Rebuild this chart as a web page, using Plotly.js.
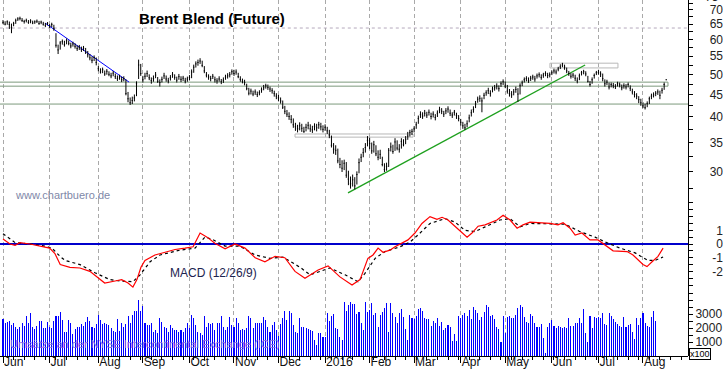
<!DOCTYPE html>
<html><head><meta charset="utf-8">
<script src="https://cdn.plot.ly/plotly-3.0.1.min.js"></script>
<style>html,body{margin:0;padding:0;background:#fff;}#chart{width:723px;height:373px;}</style>
</head><body><div id="chart"></div>
<script>
// ---- categories / ticks ----
const monthLabels = ['Jun','Jul','Aug','Sep','Oct','Nov','Dec','2016','Feb','Mar','Apr','May','Jun','Jul','Aug'];
const monthStart = [0,22,45,66,88,109,130,152,173,194,216,237,259,281,302];
const priceTicks = [30,35,40,45,50,55,60,65,70,75];
const priceMinor = [27.5,32.5,37.5,42.5,47.5,52.5,57.5,62.5,67.5,72.5];
const macdTicks = [-2,-1,0,1];
const volTicks = [1000,2000,3000];

// ---- daily price bars (trading-day index 0 = 1 Jun 2015) ----
const close = [
65.6,65.0,65.8,64.9,63.8,65.2,66.2,66.8,67.0,66.2,65.9,66.3,65.6,66.1,65.4,65.8,66.0,65.2,65.7,65.0,64.6,65.3,
64.4,64.9,63.6,58.2,56.8,58.9,59.3,58.4,59.6,58.8,58.0,58.6,57.9,57.2,57.6,56.9,57.3,56.2,55.4,54.5,53.8,54.6,53.2,
51.5,50.6,51.2,50.1,50.8,50.0,49.6,50.3,49.4,48.9,49.3,48.6,48.9,45.2,44.0,43.1,43.6,44.2,47.6,52.5,50.2,
48.6,49.5,50.2,49.1,48.4,48.9,49.8,48.2,47.9,48.7,49.6,48.8,48.3,49.1,49.9,49.2,48.5,49.4,48.7,49.0,48.3,48.8,
49.2,50.6,51.9,52.8,53.2,53.6,52.4,50.9,49.8,49.3,48.9,49.5,48.6,48.3,48.8,48.1,48.5,49.3,49.6,49.9,50.7,50.2,
50.6,49.4,48.7,48.2,47.9,46.4,45.3,45.8,45.1,45.6,45.0,45.4,46.1,46.6,47.1,46.7,46.3,45.9,45.2,44.6,44.2,
43.5,42.1,41.2,40.6,40.1,39.5,38.4,38.0,37.6,38.2,37.7,37.1,37.9,38.3,37.6,37.4,38.1,37.8,38.4,38.0,37.5,37.9,
37.2,36.4,34.5,33.8,33.6,31.8,31.2,30.6,31.4,29.5,28.9,28.2,28.8,27.9,29.6,31.5,32.4,33.2,34.1,35.4,
34.8,33.5,34.6,33.0,32.4,32.9,31.2,30.4,30.9,33.6,34.2,33.4,35.1,34.0,33.8,35.2,34.6,35.6,36.2,36.9,37.1,
37.6,38.4,39.7,40.5,40.2,40.8,40.4,41.0,40.1,40.6,39.9,40.8,41.5,41.2,40.6,41.3,41.7,40.8,40.4,41.0,40.3,39.7,
38.9,38.2,37.8,38.6,39.8,40.9,41.6,42.8,43.9,44.1,43.5,44.8,45.4,45.9,45.2,46.3,46.6,47.0,46.4,47.6,48.1,
47.0,45.8,45.2,44.9,45.6,46.2,45.1,47.1,47.8,48.6,48.9,48.4,49.0,49.3,48.8,49.6,49.9,49.2,49.8,50.2,49.7,49.9,
50.4,50.9,50.6,51.4,52.0,52.5,51.9,50.9,50.2,49.5,49.8,49.0,48.3,49.6,50.4,50.7,50.1,48.2,47.4,48.6,49.7,50.4,
50.5,50.1,48.9,47.6,48.0,46.8,47.4,47.1,46.9,47.6,47.3,46.6,47.1,46.8,47.4,46.5,45.6,45.0,44.6,43.8,43.1,
42.4,42.0,42.9,44.0,44.6,44.9,45.3,45.6,44.8,46.0,47.4,48.6
];
const high = [
66.4,66.0,66.3,65.9,65.2,65.8,66.9,67.4,67.6,67.1,66.5,66.9,66.4,66.7,66.2,66.3,66.6,66.1,66.2,65.8,65.4,65.7,
65.0,65.5,64.8,62.0,58.4,59.5,60.0,59.6,60.3,59.7,59.0,59.3,58.8,58.2,58.3,57.8,58.0,57.4,56.5,55.6,54.9,55.2,54.6,
52.2,51.6,51.8,51.0,51.4,50.8,50.4,50.9,50.2,49.7,49.9,49.4,49.5,48.7,45.6,44.3,44.5,45.0,48.2,54.0,52.8,
49.6,50.4,51.0,50.0,49.2,49.7,50.6,49.3,48.7,49.4,50.4,49.7,49.1,49.8,50.6,50.0,49.4,50.1,49.5,49.6,49.1,49.4,
49.8,51.3,52.6,53.5,54.0,54.4,53.7,52.2,50.6,50.0,49.6,50.1,49.4,49.0,49.5,48.8,49.2,49.9,50.3,50.6,51.3,51.2,
51.3,50.4,49.5,48.9,48.6,47.6,46.6,46.4,45.9,46.2,45.7,46.0,46.7,47.3,47.6,47.4,46.9,46.5,45.9,45.3,44.9,
44.3,43.6,42.4,41.5,41.0,40.4,39.7,38.8,38.4,38.9,38.6,38.0,38.6,39.0,38.5,38.2,38.7,38.6,39.0,38.8,38.3,38.5,
38.0,37.4,36.3,34.9,34.5,33.9,32.3,31.9,32.0,31.6,30.2,29.3,29.6,29.2,30.1,32.2,33.0,34.0,34.9,36.2,
35.9,35.0,35.3,34.5,33.6,33.7,32.5,31.4,31.5,34.0,35.0,34.6,35.8,35.4,34.7,35.8,35.6,36.2,37.0,37.4,37.6,
38.1,39.0,40.3,41.2,41.0,41.5,41.1,41.6,40.9,41.2,40.6,41.4,42.2,41.9,41.3,41.9,42.3,41.6,41.0,41.5,40.9,40.4,
39.6,39.0,38.6,39.3,40.5,41.6,42.3,43.5,44.5,44.8,44.3,45.4,46.0,46.6,46.0,46.9,47.3,47.7,47.2,48.2,48.7,
48.2,47.3,46.3,45.8,46.3,46.9,46.5,47.7,48.4,49.2,49.5,49.2,49.6,49.9,49.6,50.2,50.5,50.0,50.4,50.8,50.4,50.5,
51.0,51.5,51.3,52.0,52.7,53.1,52.6,51.8,50.9,50.3,50.4,49.9,49.2,50.2,50.9,51.2,50.8,49.6,48.3,49.2,50.2,50.9,
51.2,50.8,50.2,48.7,48.6,47.9,47.9,47.8,47.5,48.1,47.9,47.4,47.7,47.5,47.9,47.2,46.4,45.8,45.3,44.6,44.0,
43.2,42.9,43.4,44.5,45.2,45.5,45.8,46.2,45.9,46.6,47.9,48.7
];
const low = [
65.0,64.6,64.8,63.4,62.0,64.3,65.1,66.1,66.3,65.8,65.2,65.6,65.1,65.3,65.0,65.1,65.4,64.8,65.0,64.5,64.0,64.6,
63.7,64.0,62.8,57.5,55.6,56.9,58.4,57.8,58.5,58.2,57.3,57.8,57.2,56.5,56.8,56.2,56.5,55.6,54.6,53.8,53.0,53.6,52.4,
50.8,50.2,50.3,49.6,49.9,49.5,49.0,49.5,48.8,48.3,48.6,48.0,48.2,44.8,43.2,42.6,42.8,43.4,44.6,48.8,49.6,
47.9,48.7,49.3,48.5,47.6,48.1,49.0,47.8,46.9,47.9,48.8,48.1,47.7,48.4,49.1,48.6,47.9,48.6,48.0,48.3,47.7,48.1,
48.5,49.0,50.4,51.8,52.3,52.8,51.9,50.3,49.2,48.6,48.2,48.8,47.9,47.6,48.1,47.5,47.8,48.6,48.9,49.2,49.9,49.6,
49.9,49.0,48.1,47.7,47.2,46.0,44.8,45.0,44.6,44.9,44.4,44.8,45.4,46.0,46.4,46.1,45.6,45.2,44.5,43.9,43.5,
42.9,41.7,40.6,40.0,39.4,38.7,37.8,37.2,36.9,37.3,37.0,36.8,37.1,37.5,37.0,36.8,37.3,37.1,37.6,37.3,36.9,37.2,
36.6,35.8,34.1,33.0,32.8,31.4,30.6,30.0,30.3,29.1,28.0,27.5,27.8,27.4,28.1,29.8,31.6,32.4,33.2,34.3,
33.8,33.0,33.2,32.6,31.9,32.1,30.9,30.0,30.2,30.8,33.4,33.0,33.5,33.6,33.2,33.9,34.3,34.7,35.5,36.1,36.4,
36.9,37.6,38.6,39.8,39.6,40.1,39.8,40.3,39.5,39.9,39.3,40.0,40.8,40.6,40.0,40.6,40.9,40.2,39.8,40.3,39.6,39.1,
38.2,37.6,37.4,37.9,38.9,40.1,40.9,41.9,43.1,43.3,41.0,43.9,44.7,45.1,44.5,45.5,45.9,46.2,45.7,46.8,47.3,
46.5,45.2,44.5,44.2,44.8,45.4,43.3,45.0,47.0,47.9,48.2,47.8,48.3,48.6,48.1,48.9,49.2,48.6,49.1,49.5,49.0,49.2,
49.8,50.2,50.0,50.8,51.4,51.9,51.2,50.3,49.6,48.9,49.1,48.3,47.7,48.5,49.7,50.0,49.5,47.9,46.9,47.6,48.9,49.8,
49.9,49.3,48.2,46.9,47.3,46.2,46.7,46.5,46.3,46.9,46.7,46.0,46.4,46.2,46.7,45.8,45.0,44.3,43.9,43.0,42.4,
41.9,41.6,42.1,42.8,43.9,44.3,44.6,44.9,43.9,45.2,46.1,48.5
];

// ---- daily volume (contracts, axis shown x100) ----
const volume = [
2640,2330,2450,2520,2210,2380,2100,1900,2050,2330,2140,2860,2330,3050,2050,1900,2140,2520,2520,1980,1980,2450,
2100,1980,2500,2860,2860,3170,2570,1740,1740,2570,2330,1570,1900,2100,2050,2260,2140,2450,2760,2520,2100,2000,2300,
2930,2570,2260,2330,2290,2210,1980,1810,1740,2640,1810,2330,2100,2260,2860,2380,2930,3200,3240,4000,3240,
3570,2330,2190,2190,2330,1740,1860,1620,2690,2450,2100,2020,1740,2210,1980,1860,1860,1740,1860,1740,1980,2330,
1980,2930,2690,2210,1740,1620,1500,2860,2100,2330,2290,2330,1860,2330,2330,2860,2100,1860,2100,2760,2210,2100,
2740,2330,1860,1900,1860,1980,2860,2690,1980,2380,2330,2380,2380,2760,2570,2100,1740,2210,2450,1860,1450,
2290,2690,3240,2570,3240,3050,2210,1740,1620,2740,2100,2100,1980,1900,1860,1810,1140,790,1620,1620,1380,1380,
3050,2520,2860,3000,1980,1900,1380,1140,3860,3240,3640,3880,3740,3740,3000,3150,2330,1860,3850,3150,
3290,3810,2930,3050,2100,2930,3170,3400,3810,1750,3810,3050,2810,2330,3050,3330,2810,1900,1140,2930,2690,
2620,2860,3330,3400,3240,2690,2620,2620,2140,2500,2330,2690,2140,2450,1860,1980,2200,2050,1100,1550,1100,2860,
2690,2930,3050,2860,3290,2620,3480,3290,3100,2570,2760,3170,3640,3480,2860,2930,2620,2100,1900,1020,2860,
1670,2760,2860,2690,2690,2930,3400,3640,3480,2810,2450,2330,2980,2860,2380,2100,2050,2290,1260,240,2100,2380,
2570,2140,1980,2140,2100,1980,2050,1980,2690,2140,2140,2330,2380,2690,2330,3360,1670,1020,2860,1980,2760,2690,
2760,2690,3050,2290,2210,3050,2860,2620,2450,2290,2140,2050,2810,2050,2210,2290,1740,1200,2690,2210,2690,
3050,2330,2140,2100,2760,3240,2500
];

// ---- MACD (12/26/9) ----
const macdIdx = [0,3.3,5.7,8,12.7,17.5,22,24.5,27,31.6,36.3,41,44.4,48,52.9,56,59,61.3,63.2,65.1,67,71.7,76.5,81.2,85.9,89.7,93,96.3,100,104.8,109.5,114.2,119,123.6,128.4,133,137.8,142.5,148.7,153.4,159,164.7,168.5,172.2,174.6,177,179.3,182.6,185,188.3,191.1,194.4,197.7,201.5,204.8,207.2,210,214.3,216.6,219,221.3,224.2,227.5,230.8,233.1,236,239.3,242.6,245.4,248.7,253.4,258.1,261.9,264.3,267.6,270,273.2,277,280.8,285,287.9,294.5,297.3,302,303.9,306.3,309.1,311.5];
const macdVal = [0.36,0.0,-0.1,0.1,0.0,-0.15,-0.3,-0.7,-1.5,-1.7,-1.75,-2.0,-2.4,-2.85,-2.7,-2.6,-2.85,-3.15,-2.6,-1.7,-1.2,-0.8,-0.6,-0.4,-0.3,-0.2,0.8,0.5,0.05,-0.35,0.0,-0.3,-1.0,-1.3,-0.9,-1.0,-2.0,-2.5,-1.9,-1.6,-2.4,-3.0,-2.6,-1.05,-0.8,-0.3,-0.6,-0.45,-0.2,0.05,0.3,0.8,1.5,2.0,1.8,1.95,1.75,1.15,0.8,0.5,0.8,1.3,1.4,1.6,1.75,2.1,1.75,1.15,1.4,1.6,1.55,1.5,1.4,1.55,1.15,0.65,0.8,0.3,0.3,-0.2,-0.5,-0.55,-0.8,-1.5,-1.65,-1.3,-0.9,-0.3];
const sigIdx = [0,5.7,12.7,19.8,23.1,26.9,29.3,36.3,43.4,50.5,55.2,61.3,64.7,69.4,74.1,83.5,90.6,95.3,98.6,104.8,111.8,118.9,126,132.1,140.2,144.9,154.3,161.4,167.5,170.8,175.6,180.3,187.4,192.1,196.8,201.5,208.6,213.3,218,222.7,227.5,234.5,239.3,244,248.7,258.1,265.2,272.3,279.4,284.1,291.2,298.3,304.4,307.7,311.5];
const sigVal = [0.75,0.1,0.0,-0.15,-0.3,-0.9,-1.2,-1.5,-2.1,-2.6,-2.7,-2.75,-2.25,-1.3,-0.8,-0.45,-0.3,0.5,0.35,-0.15,-0.15,-0.8,-1.05,-0.95,-1.7,-2.25,-1.75,-2.25,-2.75,-2.15,-1.05,-0.55,-0.2,0.15,0.8,1.5,1.85,1.6,1.0,0.9,1.25,1.75,1.85,1.25,1.5,1.5,1.45,0.9,0.5,0.15,-0.3,-0.65,-1.2,-1.2,-0.95];

// ---- drawn chart lines (day index, price) ----
const downTrendX = [19.8, 59.5], downTrendY = [65.4, 48.0];
const upTrendX = [162.8, 274.7], upTrendY = [26.9, 52.5];
const supportLevel = 42.8;
const dottedLevel = 63.7;
const bandLo = 47.0, bandHi = 48.0, bandEnd = 313.8;
const boxA = {x0: 137.8, x1: 193.5, lo: 36.0, hi: 36.6};
const boxB = {x0: 258.1, x1: 290.2, lo: 51.7, hi: 53.0};

// ---------------------------------------------------------------
const dayIdx = close.map((_, i) => i);
const volIdx = volume.map((_, i) => i);
const xL = -10, xRgt = 340;
function rect(x0, x1, lo, hi) { return {x: [x0, x1, x1, x0, x0], y: [lo, lo, hi, hi, lo]}; }
function lineTrace(x, y, color, width, dash) {
  return {type: 'scatter', mode: 'lines', x: x, y: y, xaxis: 'x', yaxis: 'y',
    line: {color: color, width: width, dash: dash || 'solid'}, hoverinfo: 'skip', cliponaxis: true};
}
const band = rect(xL, bandEnd, bandLo, bandHi);
const rA = rect(boxA.x0, boxA.x1, boxA.lo, boxA.hi);
const rB = rect(boxB.x0, boxB.x1, boxB.lo, boxB.hi);

const traces = [
  lineTrace([xL, xRgt], [dottedLevel, dottedLevel], '#b4a8bc', 1, 'dot'),
  lineTrace(band.x, band.y, '#7d9a7d', 1),
  lineTrace([xL, xRgt], [supportLevel, supportLevel], '#7d9a7d', 1),
  lineTrace(rA.x, rA.y, '#b8b8b8', 1),
  lineTrace(rB.x, rB.y, '#b8b8b8', 1),
  lineTrace(downTrendX, downTrendY, '#0000ff', 1),
  lineTrace(upTrendX, upTrendY, '#1ea01e', 1.3),
  {type: 'ohlc', x: dayIdx, open: close, high: high, low: low, close: close, xaxis: 'x', yaxis: 'y4',
   increasing: {line: {color: '#000', width: 1}}, decreasing: {line: {color: '#000', width: 1}},
   tickwidth: 0.3, hoverinfo: 'skip'},
  {type: 'scatter', mode: 'lines', x: sigIdx, y: sigVal, xaxis: 'x', yaxis: 'y2',
   line: {color: '#000', width: 1.2, dash: '3px,3px'}, hoverinfo: 'skip'},
  {type: 'scatter', mode: 'lines', x: macdIdx, y: macdVal, xaxis: 'x', yaxis: 'y5',
   line: {color: '#ff0000', width: 1.2}, hoverinfo: 'skip'},
  {type: 'bar', x: volIdx, y: volume, xaxis: 'x', yaxis: 'y3', width: 0.5,
   marker: {color: '#0000ff', line: {width: 0}}, hoverinfo: 'skip'}
];

const xR = 688 / 723;
const pTop = 1, pBot = 1 - 200 / 356, mBot = 1 - 290 / 356;
const priceRange = [1.4135, 1.8678];
const macdRange = [-3.358, 3.212];
const volRange = [0, 4714];
const tickFont = {family: 'Liberation Sans, Arial, sans-serif', size: 12, color: '#222'};
const axCommon = {anchor: 'free', position: xR, side: 'right', showline: true, linecolor: '#000', linewidth: 1,
  ticks: 'outside', ticklen: 4, tickcolor: '#000', showticklabels: false, showgrid: false, zeroline: false, fixedrange: true};
const lblCommon = {anchor: 'free', position: 1, side: 'left', showline: false, ticks: '', showgrid: false,
  zeroline: false, tickfont: tickFont, fixedrange: true};

const layout = {
  width: 723, height: 373, margin: {l: 0, r: 0, t: 0, b: 17},
  paper_bgcolor: '#fff', plot_bgcolor: '#fff', showlegend: false, bargap: 0,
  font: {family: 'Liberation Sans, Arial, sans-serif', size: 12, color: '#222'},
  xaxis: {domain: [0, xR], range: [-1.416, 323.25], anchor: 'y3', rangeslider: {visible: false},
    tickmode: 'array', tickvals: monthStart, ticktext: monthLabels, ticklabelposition: 'outside right',
    ticks: 'outside', ticklen: 6, tickcolor: '#000', showline: true, linecolor: '#000', linewidth: 1,
    showgrid: true, gridcolor: '#a9a9a9', gridwidth: 1, griddash: '4px,3px', zeroline: false,
    tickfont: {family: 'Liberation Sans, Arial, sans-serif', size: 12, color: '#111'}, ticklabelstandoff: -5,
    minor: {dtick: 5, tick0: 0, ticks: 'outside', ticklen: 3, tickcolor: '#000', showgrid: false}, fixedrange: true},
  yaxis: Object.assign({}, axCommon, {domain: [pBot, pTop], type: 'log', range: priceRange, tickvals: priceTicks,
    minor: {tickvals: priceMinor, ticks: 'outside', ticklen: 4, tickcolor: '#000', showgrid: false}}),
  yaxis4: Object.assign({}, lblCommon, {overlaying: 'y', type: 'log', range: priceRange, tickvals: priceTicks,
    ticktext: priceTicks.map(String)}),
  yaxis2: Object.assign({}, axCommon, {domain: [mBot, pBot], range: macdRange, tickvals: [-3,-2,-1,0,1,2,3],
    minor: {dtick: 0.5, ticks: 'outside', ticklen: 4, tickcolor: '#000', showgrid: false},
    zeroline: true, zerolinecolor: '#0000cc', zerolinewidth: 1.3}),
  yaxis5: Object.assign({}, lblCommon, {overlaying: 'y2', range: macdRange, tickvals: macdTicks,
    ticktext: macdTicks.map(String)}),
  yaxis3: Object.assign({}, axCommon, {domain: [0, mBot], range: volRange, tickvals: [1000,2000,3000,4000],
    ticktext: ['1000','2000','3000',''], showticklabels: true, tickfont: tickFont,
    minor: {dtick: 500, ticks: 'outside', ticklen: 4, tickcolor: '#000', showgrid: false}}),
  annotations: [
    {text: '75', xref: 'paper', yref: 'paper', x: 1, xshift: -2, y: 1 + 3/356,
     xanchor: 'right', yanchor: 'middle', showarrow: false, font: tickFont},
    {text: '<b>Brent Blend (Future)</b>', xref: 'paper', yref: 'paper', x: 137/723, y: 1 - 19/356,
     xanchor: 'left', yanchor: 'middle', showarrow: false,
     font: {family: 'Liberation Sans, Arial, sans-serif', size: 15, color: '#000'}},
    {text: 'www.chartbuero.de', xref: 'paper', yref: 'paper', x: 13/723, y: 1 - 195/356,
     xanchor: 'left', yanchor: 'middle', showarrow: false,
     font: {family: 'Liberation Sans, Arial, sans-serif', size: 11, color: '#8088a8'}},
    {text: 'MACD (12/26/9)', xref: 'paper', yref: 'paper', x: 168/723, y: 1 - 273/356,
     xanchor: 'left', yanchor: 'middle', showarrow: false,
     font: {family: 'Liberation Sans, Arial, sans-serif', size: 12, color: '#1c2450'}},
    {text: 'Umsätze an der NYSE Intercontinental Exchange (ICE)', xref: 'paper', yref: 'paper', x: 8/723, y: 1 - 344/356,
     xanchor: 'left', yanchor: 'middle', showarrow: false,
     font: {family: 'Liberation Sans, Arial, sans-serif', size: 11, color: '#8a6ee6'}},
    {text: 'x100', xref: 'paper', yref: 'paper', x: 689/723, y: 1 - 353.5/356,
     xanchor: 'left', yanchor: 'middle', showarrow: false, bgcolor: '#fff', bordercolor: '#000', borderwidth: 1, borderpad: 0,
     font: {family: 'Liberation Sans, Arial, sans-serif', size: 9, color: '#000'}}
  ]
};

Plotly.newPlot('chart', traces, layout, {staticPlot: true, displayModeBar: false});
</script>
</body></html>
